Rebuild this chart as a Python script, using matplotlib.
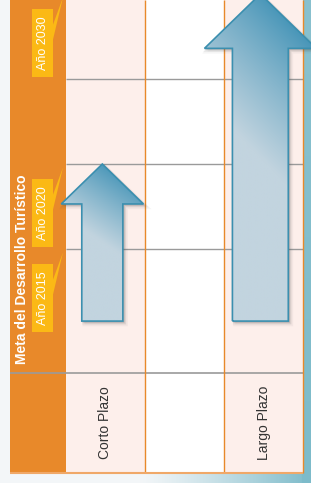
import numpy as np
import matplotlib
matplotlib.use("Agg")
import matplotlib.pyplot as plt
from matplotlib.patches import Rectangle, Polygon
from matplotlib.colors import to_rgb


# ==========================================
# DATA
# ==========================================

titulo = "Meta del Desarrollo Turístico"
categorias = ["Corto Plazo", "", "Largo Plazo"]
anios_meta = [2020, None, 2030]
anio_base = 2010.76

etiquetas_anio = ["Año 2015", "Año 2020", "Año 2030"]
anios_etiqueta = [2015, 2020, 2030]
lineas_anio = [2015, 2020, 2025, 2030]


# ==========================================
# STYLE
# ==========================================

plt.rcParams["font.family"] = ["Liberation Sans", "DejaVu Sans"]

naranja = "#E8892A"
amarillo = "#FBB915"
rosa = "#FDEFEB"
gris = "#9A9A9A"
teal = "#7DBBCA"
claro = "#F3F6F8"
azul_osc = "#4A97B9"
azul_cla = "#C2D4DF"
borde = "#3B8FAF"

fig = plt.figure(figsize=(3.11, 4.83), dpi=100)
ax = fig.add_axes([0, 0, 1, 1])

x0, x1 = -0.835, 3.101
y0, y1 = 2001.235, 2029.65
ax.set_xlim(x0, x1)
ax.set_ylim(y0, y1)
ax.axis("off")

x_izq = -0.709     # left edge of the orange column
y_bot = 2001.82    # bottom of the table
y_sep = 2007.7     # line above the category row


# ==========================================
# BACKGROUND
# ==========================================

xx = np.linspace(0, 1, 311)[None, :].repeat(483, axis=0)
yy = np.linspace(0, 1, 483)[:, None].repeat(311, axis=1)
t = np.clip((xx - 0.45) / 0.55, 0, 1) ** 1.2
t = np.where(xx > 0.973, 0.9 + 0.1 * yy, t)
bg = (1 - t[..., None]) * np.array(to_rgb(claro)) + t[..., None] * np.array(to_rgb(teal))
ax.imshow(bg, extent=(x0, x1, y0, y1), aspect="auto", zorder=0)


# ==========================================
# TABLE
# ==========================================

ax.add_patch(Rectangle((x_izq, y_bot), -x_izq, y1 - y_bot + 1,
                       facecolor=naranja, edgecolor="none", zorder=1))

for i, cat in enumerate(categorias):
    color = "white" if i % 2 else rosa
    ax.add_patch(Rectangle((i, y_bot), 1, y1 - y_bot + 1,
                           facecolor=color, edgecolor="none", zorder=1))
    if cat:
        ax.text(i + 0.5, 2004.76, cat, rotation=90, ha="center", va="center",
                fontsize=10, color="#333333", zorder=5)

ax.hlines(lineas_anio, 0, len(categorias), color=gris, lw=1.0, zorder=2)
ax.hlines(y_sep, x_izq, len(categorias), color=gris, lw=1.2, zorder=2)
ax.vlines(range(1, len(categorias) + 1), y_bot, y1, color=naranja, lw=1.0, zorder=2)
ax.hlines(y_bot, x_izq, len(categorias), color="#F0A868", lw=1.5, zorder=2)


# ==========================================
# TITLE + YEAR LABELS
# ==========================================

ax.text(-0.557, 2013.82, titulo, rotation=90, ha="center", va="center",
        fontsize=10, fontweight="bold", color="white", zorder=5)

for lab, anio in zip(etiquetas_anio, anios_etiqueta):
    yc = anio - 2.9
    ax.add_patch(Rectangle((-0.43, yc - 2.0), 0.265, 4.0,
                           facecolor=amarillo, edgecolor="none", zorder=3))
    ax.add_patch(Polygon([(-0.166, anio - 1.82), (-0.166, anio - 2.71),
                          (-0.038, anio - 0.2)],
                         facecolor=amarillo, edgecolor="none", zorder=3))
    ax.text(-0.297, yc, lab, rotation=90, ha="center", va="center",
            fontsize=9, color="white", zorder=5)


# ==========================================
# ARROWS
# ==========================================

def flecha(xc, tip, base, escala):
    hw_head = 0.52 * escala
    hw_shaft = 0.26 * escala
    head_len = 2.35 * escala
    pts = [(xc - hw_shaft, base), (xc - hw_shaft, tip - head_len),
           (xc - hw_head, tip - head_len), (xc, tip),
           (xc + hw_head, tip - head_len), (xc + hw_shaft, tip - head_len),
           (xc + hw_shaft, base)]

    # soft shadow
    for k, a in zip([3, 2, 1], [0.06, 0.09, 0.12]):
        sh = [(px + k * 0.012, py - k * 0.06) for px, py in pts]
        ax.add_patch(Polygon(sh, closed=True, facecolor="#555555",
                             edgecolor="#555555", lw=k, alpha=a, zorder=3))

    # gradient fill
    gx = np.linspace(xc - hw_head, xc + hw_head, 120)
    gy = np.linspace(base, tip, 300)
    GX, GY = np.meshgrid(gx, gy)
    glen = 0.5 * (tip - base)
    s = (tip - GY) / glen - 0.35 * (GX - xc) / hw_head
    s = np.clip(s, 0, 1) ** 0.9
    img = (1 - s[..., None]) * np.array(to_rgb(azul_osc)) + s[..., None] * np.array(to_rgb(azul_cla))
    poly = Polygon(pts, closed=True, facecolor="none", edgecolor=borde,
                   lw=1.2, zorder=5)
    ax.add_patch(poly)
    im = ax.imshow(img, extent=(gx[0], gx[-1], base, tip), origin="lower",
                   aspect="auto", zorder=4)
    im.set_clip_path(poly)


escalas = [1.0, None, 1.36]
for i, meta in enumerate(anios_meta):
    if meta is None:
        continue
    flecha(i + 0.5 - 0.04, meta, anio_base, escalas[i])

ax.set_xlim(x0, x1)
ax.set_ylim(y0, y1)

fig.savefig("out.png", dpi=100)
